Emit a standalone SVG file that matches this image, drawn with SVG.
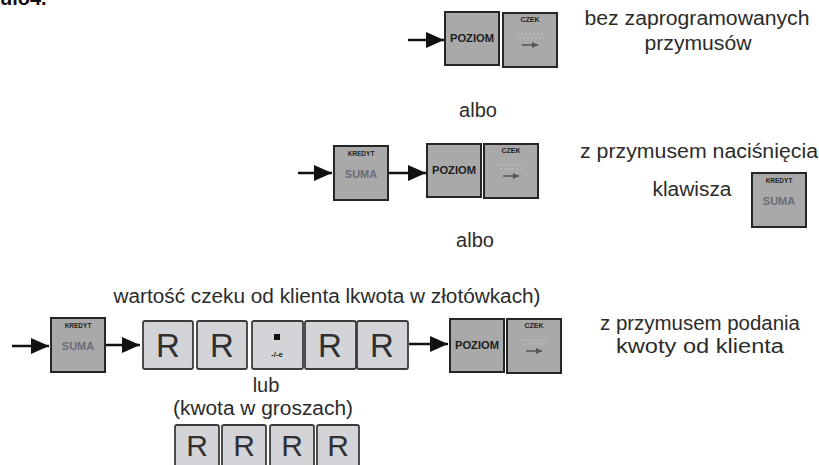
<svg xmlns="http://www.w3.org/2000/svg" width="819" height="465" viewBox="0 0 819 465">
<style>
  .t { font-family: "Liberation Sans", Arial, sans-serif; font-size: 20px; fill: #2b2b2b; text-anchor: middle; }
  .dk { fill: #a9a9a9; stroke: #262626; stroke-width: 2; }
  .rk { fill: #d2d4d8; stroke: #3c3c3c; stroke-width: 1.8; }
  .kl { font-family: "Liberation Sans", Arial, sans-serif; font-weight: bold; fill: #1e1e1e; text-anchor: middle; }
  .sum { font-family: "Liberation Sans", Arial, sans-serif; font-weight: bold; fill: #6b6d7a; text-anchor: middle; font-size: 11px; }
  .r { font-family: "Liberation Sans", Arial, sans-serif; fill: #303030; text-anchor: middle; }
  .ln { stroke: #111; stroke-width: 2.5; fill: none; }
  .sa { stroke: #555; stroke-width: 1.5; fill: none; }
</style>
<defs>
  <marker id="ah" viewBox="0 0 18 16" refX="18" refY="8" markerWidth="18" markerHeight="16" markerUnits="userSpaceOnUse" orient="auto">
    <path d="M0,0 L18,8 L0,16 Z" fill="#111"/>
  </marker>
  <marker id="sah" viewBox="0 0 6 6" refX="6" refY="3" markerWidth="6" markerHeight="6" markerUnits="userSpaceOnUse" orient="auto">
    <path d="M0,0 L6,3 L0,6 Z" fill="#555"/>
  </marker>
  <g id="czek">
    <rect class="dk" x="0" y="0" width="54" height="54"/>
    <text class="kl" x="27" y="9" font-size="7">CZEK</text>
    <line x1="14" y1="21" x2="40" y2="21" stroke="#c4c4c4" stroke-width="1" stroke-dasharray="2 2"/>
    <line x1="16" y1="25" x2="38" y2="25" stroke="#c4c4c4" stroke-width="1" stroke-dasharray="2 2"/>
    <line class="sa" x1="19" y1="32" x2="35" y2="32" marker-end="url(#sah)"/>
  </g>
  <g id="kredyt">
    <rect class="dk" x="0" y="0" width="54" height="54"/>
    <text class="kl" x="27" y="10" font-size="6.5">KREDYT</text>
    <text class="sum" x="27" y="32">SUMA</text>
  </g>
  <g id="poziom">
    <rect class="dk" x="0" y="0" width="54" height="53"/>
    <text class="kl" x="27" y="30" font-size="10" textLength="44" lengthAdjust="spacingAndGlyphs">POZIOM</text>
  </g>
</defs>

<text x="0" y="5" font-family="Liberation Sans, Arial, sans-serif" font-weight="bold" font-size="20" fill="#111">ulo4.</text>

<g id="connectors">
  <line class="ln" x1="408" y1="40" x2="444" y2="40" marker-end="url(#ah)"/>
  <line class="ln" x1="298" y1="173" x2="332" y2="173" marker-end="url(#ah)"/>
  <line class="ln" x1="389" y1="173" x2="426" y2="173" marker-end="url(#ah)"/>
  <line class="ln" x1="12" y1="346" x2="49" y2="346" marker-end="url(#ah)"/>
  <line class="ln" x1="103" y1="345" x2="140" y2="345" marker-end="url(#ah)"/>
  <line class="ln" x1="409" y1="344" x2="448" y2="344" marker-end="url(#ah)"/>
</g>

<!-- Row 1 -->
<g id="poziom1"><use href="#poziom" x="445" y="12"/></g>
<g id="czek1"><use href="#czek" x="503" y="13"/></g>
<g id="label1">
  <text class="t" x="697" y="25" textLength="225" lengthAdjust="spacingAndGlyphs">bez zaprogramowanych</text>
  <text class="t" x="698" y="50" textLength="107" lengthAdjust="spacingAndGlyphs">przymusów</text>
</g>
<text class="t" x="478" y="117">albo</text>

<!-- Row 2 -->
<g id="kredyt2"><use href="#kredyt" x="334" y="146"/></g>
<g id="poziom2"><use href="#poziom" x="427" y="144"/></g>
<g id="czek2"><use href="#czek" x="484" y="144"/></g>
<g id="label2">
  <text class="t" x="699" y="158" textLength="238" lengthAdjust="spacingAndGlyphs">z przymusem naciśnięcia</text>
  <text class="t" x="692" y="196" textLength="79" lengthAdjust="spacingAndGlyphs">klawisza</text>
</g>
<g id="kredyt2b"><use href="#kredyt" x="752" y="173"/></g>
<text class="t" x="475" y="247">albo</text>

<!-- Row 3 -->
<text class="t" x="327" y="303" textLength="427" lengthAdjust="spacingAndGlyphs">wartość czeku od klienta lkwota w złotówkach)</text>
<g id="kredyt3"><use href="#kredyt" x="51" y="318"/></g>
<g id="r1"><rect class="rk" x="143" y="321" width="50" height="48" rx="2"/><text class="r" x="168" y="357" font-size="33">R</text></g>
<g id="r2"><rect class="rk" x="197" y="321" width="50" height="48" rx="2"/><text class="r" x="222" y="357" font-size="33">R</text></g>
<g id="dot"><rect class="rk" x="252" y="321" width="51" height="48" rx="2"/><rect x="274" y="334" width="6" height="6" fill="#111"/><text class="kl" x="277" y="357" font-size="8">-/-e</text></g>
<g id="r3"><rect class="rk" x="305" y="321" width="51" height="48" rx="2"/><text class="r" x="330" y="357" font-size="33">R</text></g>
<g id="r4"><rect class="rk" x="357" y="321" width="51" height="48" rx="2"/><text class="r" x="382" y="357" font-size="33">R</text></g>
<g id="poziom3"><use href="#poziom" x="450" y="319"/></g>
<g id="czek3"><use href="#czek" x="507" y="319"/></g>
<g id="label3">
  <text class="t" x="700" y="330" textLength="200" lengthAdjust="spacingAndGlyphs">z przymusem podania</text>
  <text class="t" x="700" y="353" textLength="168" lengthAdjust="spacingAndGlyphs">kwoty od klienta</text>
</g>
<text class="t" x="266" y="392">lub</text>
<text class="t" x="263" y="415" textLength="180" lengthAdjust="spacingAndGlyphs">(kwota w groszach)</text>
<g id="r5"><rect class="rk" x="175" y="425" width="44" height="46" rx="2"/><text class="r" x="197" y="456" font-size="30">R</text></g>
<g id="r6"><rect class="rk" x="222" y="425" width="44" height="46" rx="2"/><text class="r" x="244" y="456" font-size="30">R</text></g>
<g id="r7"><rect class="rk" x="270" y="425" width="44" height="46" rx="2"/><text class="r" x="292" y="456" font-size="30">R</text></g>
<g id="r8"><rect class="rk" x="317" y="425" width="42" height="46" rx="2"/><text class="r" x="338" y="456" font-size="30">R</text></g>
</svg>
